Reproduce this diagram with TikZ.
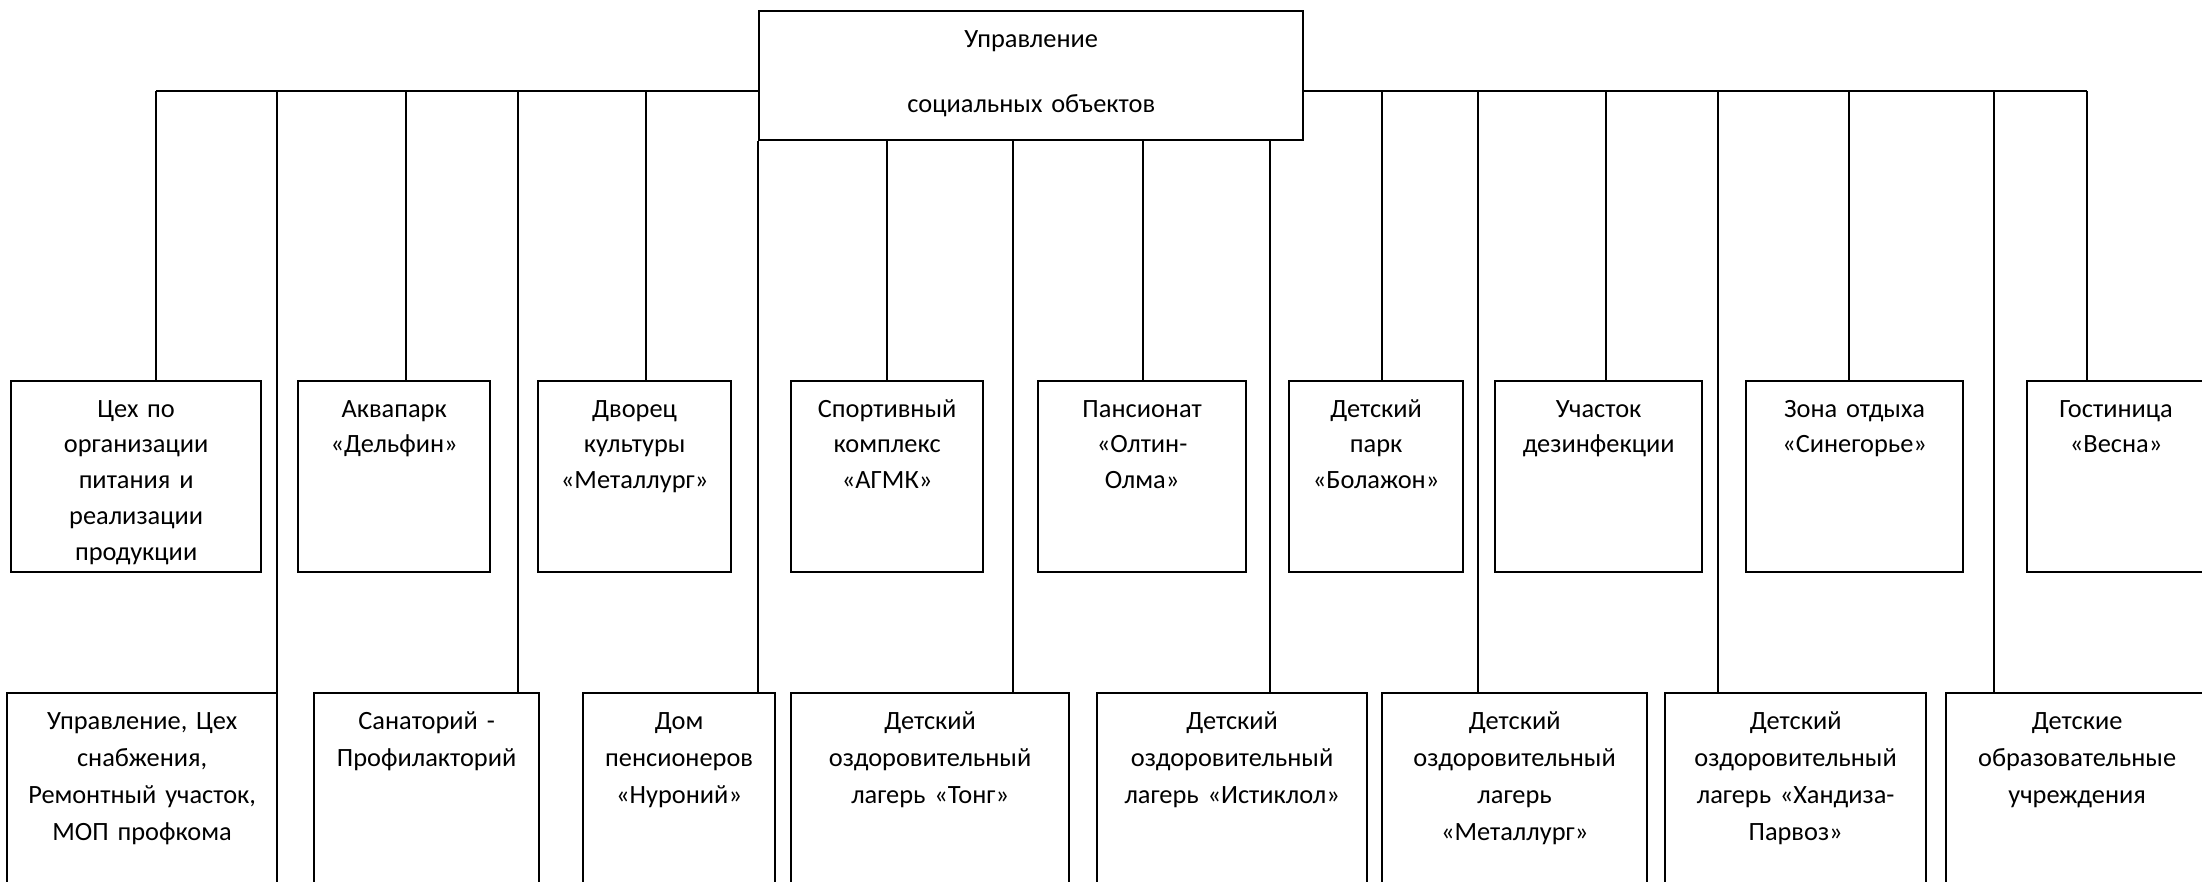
\documentclass[tikz,border=0pt]{standalone}
\usepackage{fontspec}
\setmainfont{Carlito}

\tikzset{
  unit/.style={draw, line width=0.6pt, inner sep=0pt, align=center,
    anchor=north west, text height=0.36cm,
    font=\fontsize{7.5}{10.2}\selectfont},
  upper/.style={unit, text depth=1.55cm},
  lower/.style={unit, text depth=1.76cm, font=\fontsize{7.5}{10.6}\selectfont},
  link/.style={line width=0.5pt},
}

\begin{document}
\begin{tikzpicture}[x=0.01cm, y=-0.01cm]
    \useasboundingbox (0, 0) rectangle (2202, 881);

    \node [unit, text width=5.44cm, text depth=0.93cm] (top) at (758, 10) {Управление\\[0.3cm]социальных объектов};

    % upper row
    \node [upper, text width=2.50cm] (cex) at (10, 380) {Цех по\\организации\\питания и\\реализации\\продукции};
    \node [upper, text width=1.92cm] (akva) at (297, 380) {Аквапарк\\«Дельфин»};
    \node [upper, text width=1.93cm] (dvor) at (537, 380) {Дворец\\культуры\\«Металлург»};
    \node [upper, text width=1.92cm] (sport) at (790, 380) {Спортивный\\комплекс\\«АГМК»};
    \node [upper, text width=2.08cm] (pans) at (1037, 380) {Пансионат\\«Олтин-\\Олма»};
    \node [upper, text width=1.74cm] (park) at (1288, 380) {Детский\\парк\\«Болажон»};
    \node [upper, text width=2.07cm] (dezin) at (1494, 380) {Участок\\дезинфекции};
    \node [upper, text width=2.17cm] (sineg) at (1745, 380) {Зона отдыха\\«Синегорье»};
    \node [upper, text width=1.78cm] (vesna) at (2026, 380) {Гостиница\\«Весна»};

    % lower row
    \node [lower, text width=2.70cm] (upr) at (6, 692) {Управление, Цех\\снабжения,\\Ремонтный участок,\\МОП профкома};
    \node [lower, text width=2.25cm] (sanat) at (313, 692) {Санаторий -\\Профилакторий};
    \node [lower, text width=1.92cm] (dom) at (582, 692) {Дом\\пенсионеров\\«Нуроний»};
    \node [lower, text width=2.78cm] (tong) at (790, 692) {Детский\\оздоровительный\\лагерь «Тонг»};
    \node [lower, text width=2.70cm] (istik) at (1096, 692) {Детский\\оздоровительный\\лагерь «Истиклол»};
    \node [lower, text width=2.65cm] (metal) at (1381, 692) {Детский\\оздоровительный\\лагерь\\«Металлург»};
    \node [lower, text width=2.61cm] (khand) at (1664, 692) {Детский\\оздоровительный\\лагерь «Хандиза-\\Парвоз»};
    \node [lower, text width=2.62cm] (obraz) at (1945, 692) {Детские\\образовательные\\учреждения};

    % junctions
    \coordinate (jcex) at (156, 91);
    \coordinate (jupr) at (277, 91);
    \coordinate (jakva) at (406, 91);
    \coordinate (jsanat) at (518, 91);
    \coordinate (jdvor) at (646, 91);
    \coordinate (jsport) at (887, 139);
    \coordinate (jtong) at (1013, 139);
    \coordinate (jpans) at (1143, 139);
    \coordinate (jistik) at (1270, 139);
    \coordinate (jpark) at (1382, 91);
    \coordinate (jmetal) at (1478, 91);
    \coordinate (jdezin) at (1606, 91);
    \coordinate (jkhand) at (1718, 91);
    \coordinate (jsineg) at (1849, 91);
    \coordinate (jobraz) at (1994, 91);
    \coordinate (jvesna) at (2087, 91);

    \draw [link] (jcex) -- (jcex -| top.west);
    \draw [link] (jvesna) -- (jvesna -| top.east);

    \draw [link] (jcex) -- (jcex |- cex.north);
    \draw [link] (jupr) -- (jupr |- upr.north);
    \draw [link] (jakva) -- (jakva |- akva.north);
    \draw [link] (jsanat) -- (jsanat |- sanat.north);
    \draw [link] (jdvor) -- (jdvor |- dvor.north);
    \draw [link] (top.south west) -- (top.south west |- dom.north);
    \draw [link] (jsport) -- (jsport |- sport.north);
    \draw [link] (jtong) -- (jtong |- tong.north);
    \draw [link] (jpans) -- (jpans |- pans.north);
    \draw [link] (jistik) -- (jistik |- istik.north);
    \draw [link] (jpark) -- (jpark |- park.north);
    \draw [link] (jmetal) -- (jmetal |- metal.north);
    \draw [link] (jdezin) -- (jdezin |- dezin.north);
    \draw [link] (jkhand) -- (jkhand |- khand.north);
    \draw [link] (jsineg) -- (jsineg |- sineg.north);
    \draw [link] (jobraz) -- (jobraz |- obraz.north);
    \draw [link] (jvesna) -- (jvesna |- vesna.north);
  \end{tikzpicture}
\end{document}
